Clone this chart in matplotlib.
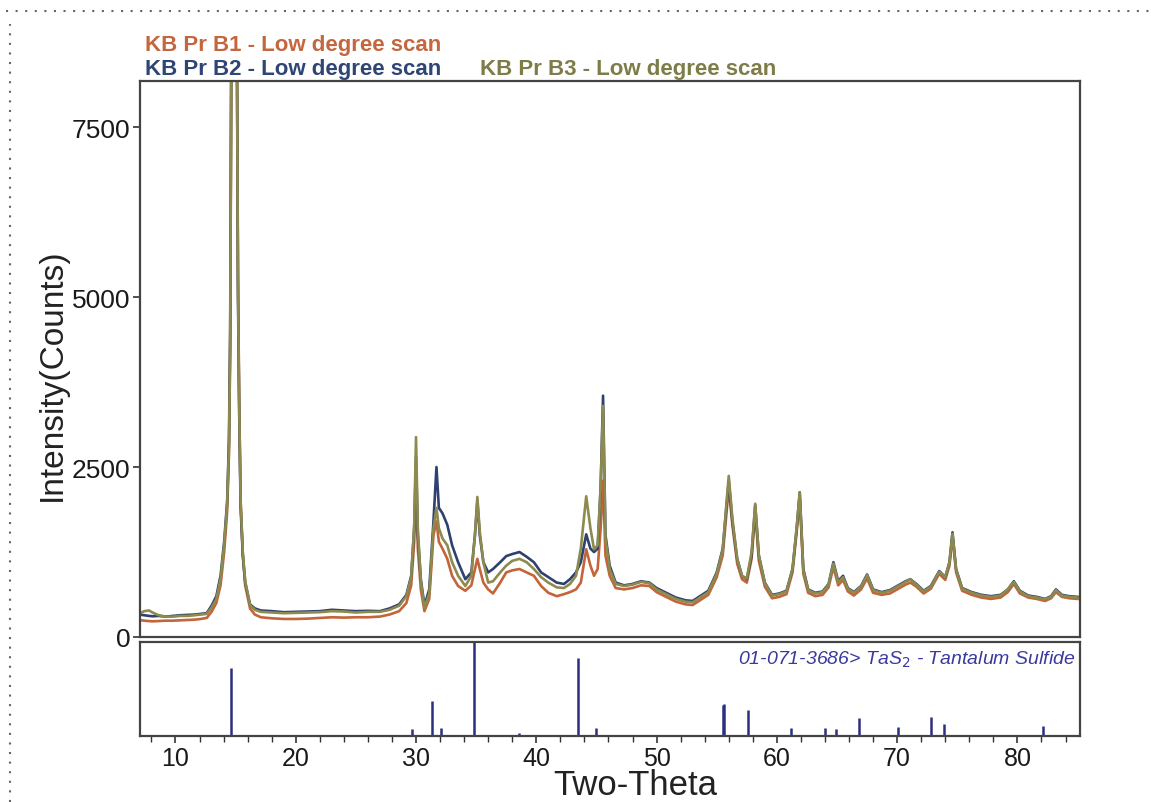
import matplotlib.pyplot as plt
from matplotlib.lines import Line2D

plt.rcParams['font.family'] = ['Liberation Sans', 'DejaVu Sans']

# two-theta grid (denser around the peaks)
two_theta = [
    7.0, 7.4, 7.8, 8.1, 8.6, 9.2, 9.8, 10.4, 11.0, 11.6,
    12.1, 12.6, 13.0, 13.4, 13.75, 14.05, 14.3, 14.45, 14.55, 14.65,
    14.85, 15.1, 15.2, 15.3, 15.42, 15.6, 15.8, 16.2, 16.6, 17.1,
    18.0, 19.0, 20.0, 21.0, 22.0, 23.0, 24.0, 25.0, 26.0, 27.0,
    27.8, 28.6, 29.2, 29.6, 29.85, 30.0, 30.15, 30.4, 30.7, 31.1,
    31.45, 31.7, 31.9, 32.2, 32.6, 33.0, 33.5, 34.1, 34.6, 34.9,
    35.1, 35.3, 35.6, 36.0, 36.4, 37.0, 37.5, 38.0, 38.6, 39.2,
    39.8, 40.4, 41.0, 41.7, 42.3, 42.8, 43.3, 43.7, 44.15, 44.5,
    44.8, 45.1, 45.35, 45.55, 45.75, 46.1, 46.6, 47.3, 48.0, 48.7,
    49.4, 50.0, 50.8, 51.6, 52.4, 53.0, 53.6, 54.3, 55.0, 55.5,
    55.8, 56.0, 56.3, 56.7, 57.1, 57.5, 57.9, 58.2, 58.5, 59.0,
    59.6, 60.2, 60.8, 61.3, 61.65, 61.9, 62.2, 62.6, 63.2, 63.8,
    64.3, 64.7, 65.1, 65.5, 65.9, 66.4, 67.0, 67.5, 68.0, 68.7,
    69.4, 70.1, 70.7, 71.1, 71.6, 72.2, 72.8, 73.5, 74.0, 74.35,
    74.6, 74.9, 75.4, 76.2, 77.0, 77.8, 78.6, 79.2, 79.7, 80.2,
    80.9, 81.6, 82.3, 82.8, 83.2, 83.7, 84.3, 85.0,
]

b1 = [
    250, 240, 235, 230, 235, 240, 240, 245, 250, 255,
    265, 280, 370, 500, 760, 1250, 1850, 2700, 4200, 8600,
    17500, 9300, 5300, 3500, 2000, 1200, 760, 420, 330, 290,
    275, 265, 265, 270, 280, 290, 285, 290, 290, 300,
    330, 380, 500, 760, 1400, 2300, 1300, 700, 380, 560,
    1500, 1700, 1400, 1300, 1150, 900, 750, 680, 760, 1000,
    1150, 1000, 800, 700, 640, 800, 950, 980, 1000, 950,
    900, 750, 650, 600, 630, 660, 700, 800, 1290, 1050,
    900, 1000, 1600, 2300, 1200, 900, 720, 700, 720, 760,
    750, 660, 590, 520, 480, 470, 540, 620, 880, 1200,
    1800, 2200, 1650, 1080, 850, 800, 1150, 1850, 1120, 740,
    570, 590, 630, 950, 1550, 2050, 930, 650, 600, 620,
    730, 1030, 760, 840, 670, 610, 700, 860, 650, 620,
    640, 710, 770, 800, 740, 640, 710, 930, 840, 1050,
    1480, 950, 680, 620, 580, 560, 580, 660, 780, 640,
    580, 560, 530, 570, 660, 590, 570, 560,
]

b2 = [
    330, 320, 310, 305, 310, 300, 310, 320, 325, 330,
    340, 350, 460, 600, 900, 1400, 2000, 2900, 4500, 9000,
    18000, 9000, 5000, 3300, 1900, 1200, 800, 480, 420, 390,
    380, 365, 370, 375, 380, 400, 390, 380, 385, 380,
    420, 480, 620, 900, 1600, 2650, 1500, 850, 460, 700,
    1700, 2500, 1900, 1820, 1650, 1350, 1100, 850, 950, 1500,
    2000, 1500, 1100, 950, 1000, 1100, 1190, 1220, 1250, 1180,
    1100, 950, 880, 800, 780, 850, 950, 1100, 1510, 1300,
    1250, 1300, 2200, 3550, 1500, 1050, 800, 760, 780, 820,
    800, 720, 650, 580, 540, 530, 600, 680, 950, 1300,
    1900, 2300, 1700, 1150, 900, 850, 1200, 1940, 1200, 800,
    620, 640, 680, 1000, 1600, 2130, 1000, 700, 650, 670,
    780, 1100, 820, 900, 720, 660, 750, 920, 700, 660,
    690, 760, 820, 850, 780, 680, 750, 970, 880, 1100,
    1540, 1000, 720, 660, 620, 600, 620, 700, 820, 680,
    610, 590, 560, 600, 700, 620, 600, 590,
]

b3 = [
    340, 380, 390, 360, 320, 300, 300, 310, 310, 320,
    330, 340, 430, 560, 850, 1350, 1950, 2800, 4300, 8800,
    18000, 9200, 5200, 3400, 2000, 1250, 820, 470, 400, 370,
    360, 350, 355, 360, 365, 380, 375, 360, 370, 370,
    400, 460, 600, 880, 1650, 2940, 1600, 820, 430, 640,
    1600, 1900, 1600, 1450, 1350, 1100, 900, 750, 900, 1500,
    2060, 1550, 1100, 800, 820, 950, 1050, 1120, 1150, 1100,
    1000, 880, 800, 730, 720, 780, 900, 1300, 2070, 1600,
    1290, 1350, 2200, 3400, 1450, 1000, 780, 750, 770, 810,
    790, 700, 630, 560, 520, 510, 580, 660, 930, 1280,
    1950, 2370, 1750, 1150, 900, 860, 1250, 1960, 1200, 790,
    610, 630, 670, 1000, 1620, 2130, 980, 690, 640, 660,
    770, 1080, 800, 880, 710, 650, 740, 910, 690, 650,
    680, 750, 810, 850, 770, 670, 740, 960, 880, 1100,
    1520, 990, 710, 650, 610, 590, 610, 700, 810, 670,
    600, 580, 555, 590, 690, 610, 590, 580,
]

# reference pattern 01-071-3686 TaS2 (relative heights in the lower strip)
ref_pos = [14.62, 29.65, 31.3, 32.1, 34.8, 38.6, 43.5, 44.95, 55.5, 55.6,
           57.6, 61.2, 64.0, 64.9, 66.8, 70.1, 72.8, 73.9, 82.1]
ref_h = [0.72, 0.07, 0.37, 0.08, 1.3, 0.035, 0.83, 0.09, 0.33, 0.34,
         0.28, 0.086, 0.086, 0.07, 0.19, 0.10, 0.20, 0.13, 0.11]

scan_labels = ['KB Pr B1 - Low degree scan', 'KB Pr B2 - Low degree scan',
               'KB Pr B3 - Low degree scan']
scan_colors = ['#C4643A', '#2F416E', '#8C8A4E']
text_colors = ['#C4673F', '#2F4574', '#7E7C48']

fig = plt.figure(figsize=(11.51, 8.03), dpi=100)
ax = fig.add_axes([0.1216, 0.2055, 0.8167, 0.6924])
ax2 = fig.add_axes([0.1216, 0.0822, 0.8167, 0.117])

for y, c in zip([b1, b2, b3], scan_colors):
    ax.plot(two_theta, y, color=c, lw=1.9)

ax.set_xlim(7.05, 85.2)
ax.set_ylim(0, 8180)
ax.set_yticks([0, 2500, 5000, 7500])
ax.set_xticks([])
ax.tick_params(axis='y', direction='out', length=5, width=1.2, labelsize=19,
               pad=2, colors='#333333', labelcolor='#1a1a1a')
for sp in ax.spines.values():
    sp.set_color('#444444')
    sp.set_linewidth(1.6)

ax2.vlines(ref_pos, 0, ref_h, color='#2B2F7F', lw=1.8)
ax2.set_xlim(7.05, 85.2)
ax2.set_ylim(0, 1)
ax2.set_yticks([])
ax2.set_xticks(range(10, 90, 10))
ax2.set_xticks(range(8, 86, 2), minor=True)
ax2.tick_params(axis='x', which='major', direction='out', length=5, width=1.2,
                labelsize=18, colors='#333333', labelcolor='#1a1a1a', pad=2)
ax2.tick_params(axis='x', which='minor', direction='out', length=4, width=1.0,
                colors='#333333')
for sp in ax2.spines.values():
    sp.set_color('#444444')
    sp.set_linewidth(1.6)
ax2.text(0.995, 0.93, '01-071-3686> TaS$_2$ - Tantalum Sulfide',
         transform=ax2.transAxes, ha='right', va='top', fontsize=14,
         style='italic', color='#3A3A9E')

fig.text(145 / 1151, 1 - 45 / 803, scan_labels[0], color=text_colors[0],
         fontsize=16, fontweight='bold', va='center', ha='left')
fig.text(145 / 1151, 1 - 70 / 803, scan_labels[1], color=text_colors[1],
         fontsize=16, fontweight='bold', va='center', ha='left')
fig.text(480 / 1151, 1 - 70 / 803, scan_labels[2], color=text_colors[2],
         fontsize=16, fontweight='bold', va='center', ha='left')

fig.text(52 / 1151, 1 - 375 / 803, 'Intensity(Counts)', rotation=90,
         fontsize=24, ha='center', va='center', color='#222222')
fig.text(635 / 1151, 1 / 803, 'Two-Theta', fontsize=25,
         ha='center', va='bottom', color='#222222')

# dotted ruler marks along the top and left edge of the scanned page
fig.add_artist(Line2D([0.005, 1.0], [1 - 12 / 803, 1 - 12 / 803],
                      transform=fig.transFigure, color='#666666', lw=1.5,
                      linestyle=(0, (1, 3.6))))
fig.add_artist(Line2D([10 / 1151, 10 / 1151], [0.0, 1 - 25 / 803],
                      transform=fig.transFigure, color='#666666', lw=1.5,
                      linestyle=(0, (1, 3.6))))

fig.savefig('out.png', dpi=100)
